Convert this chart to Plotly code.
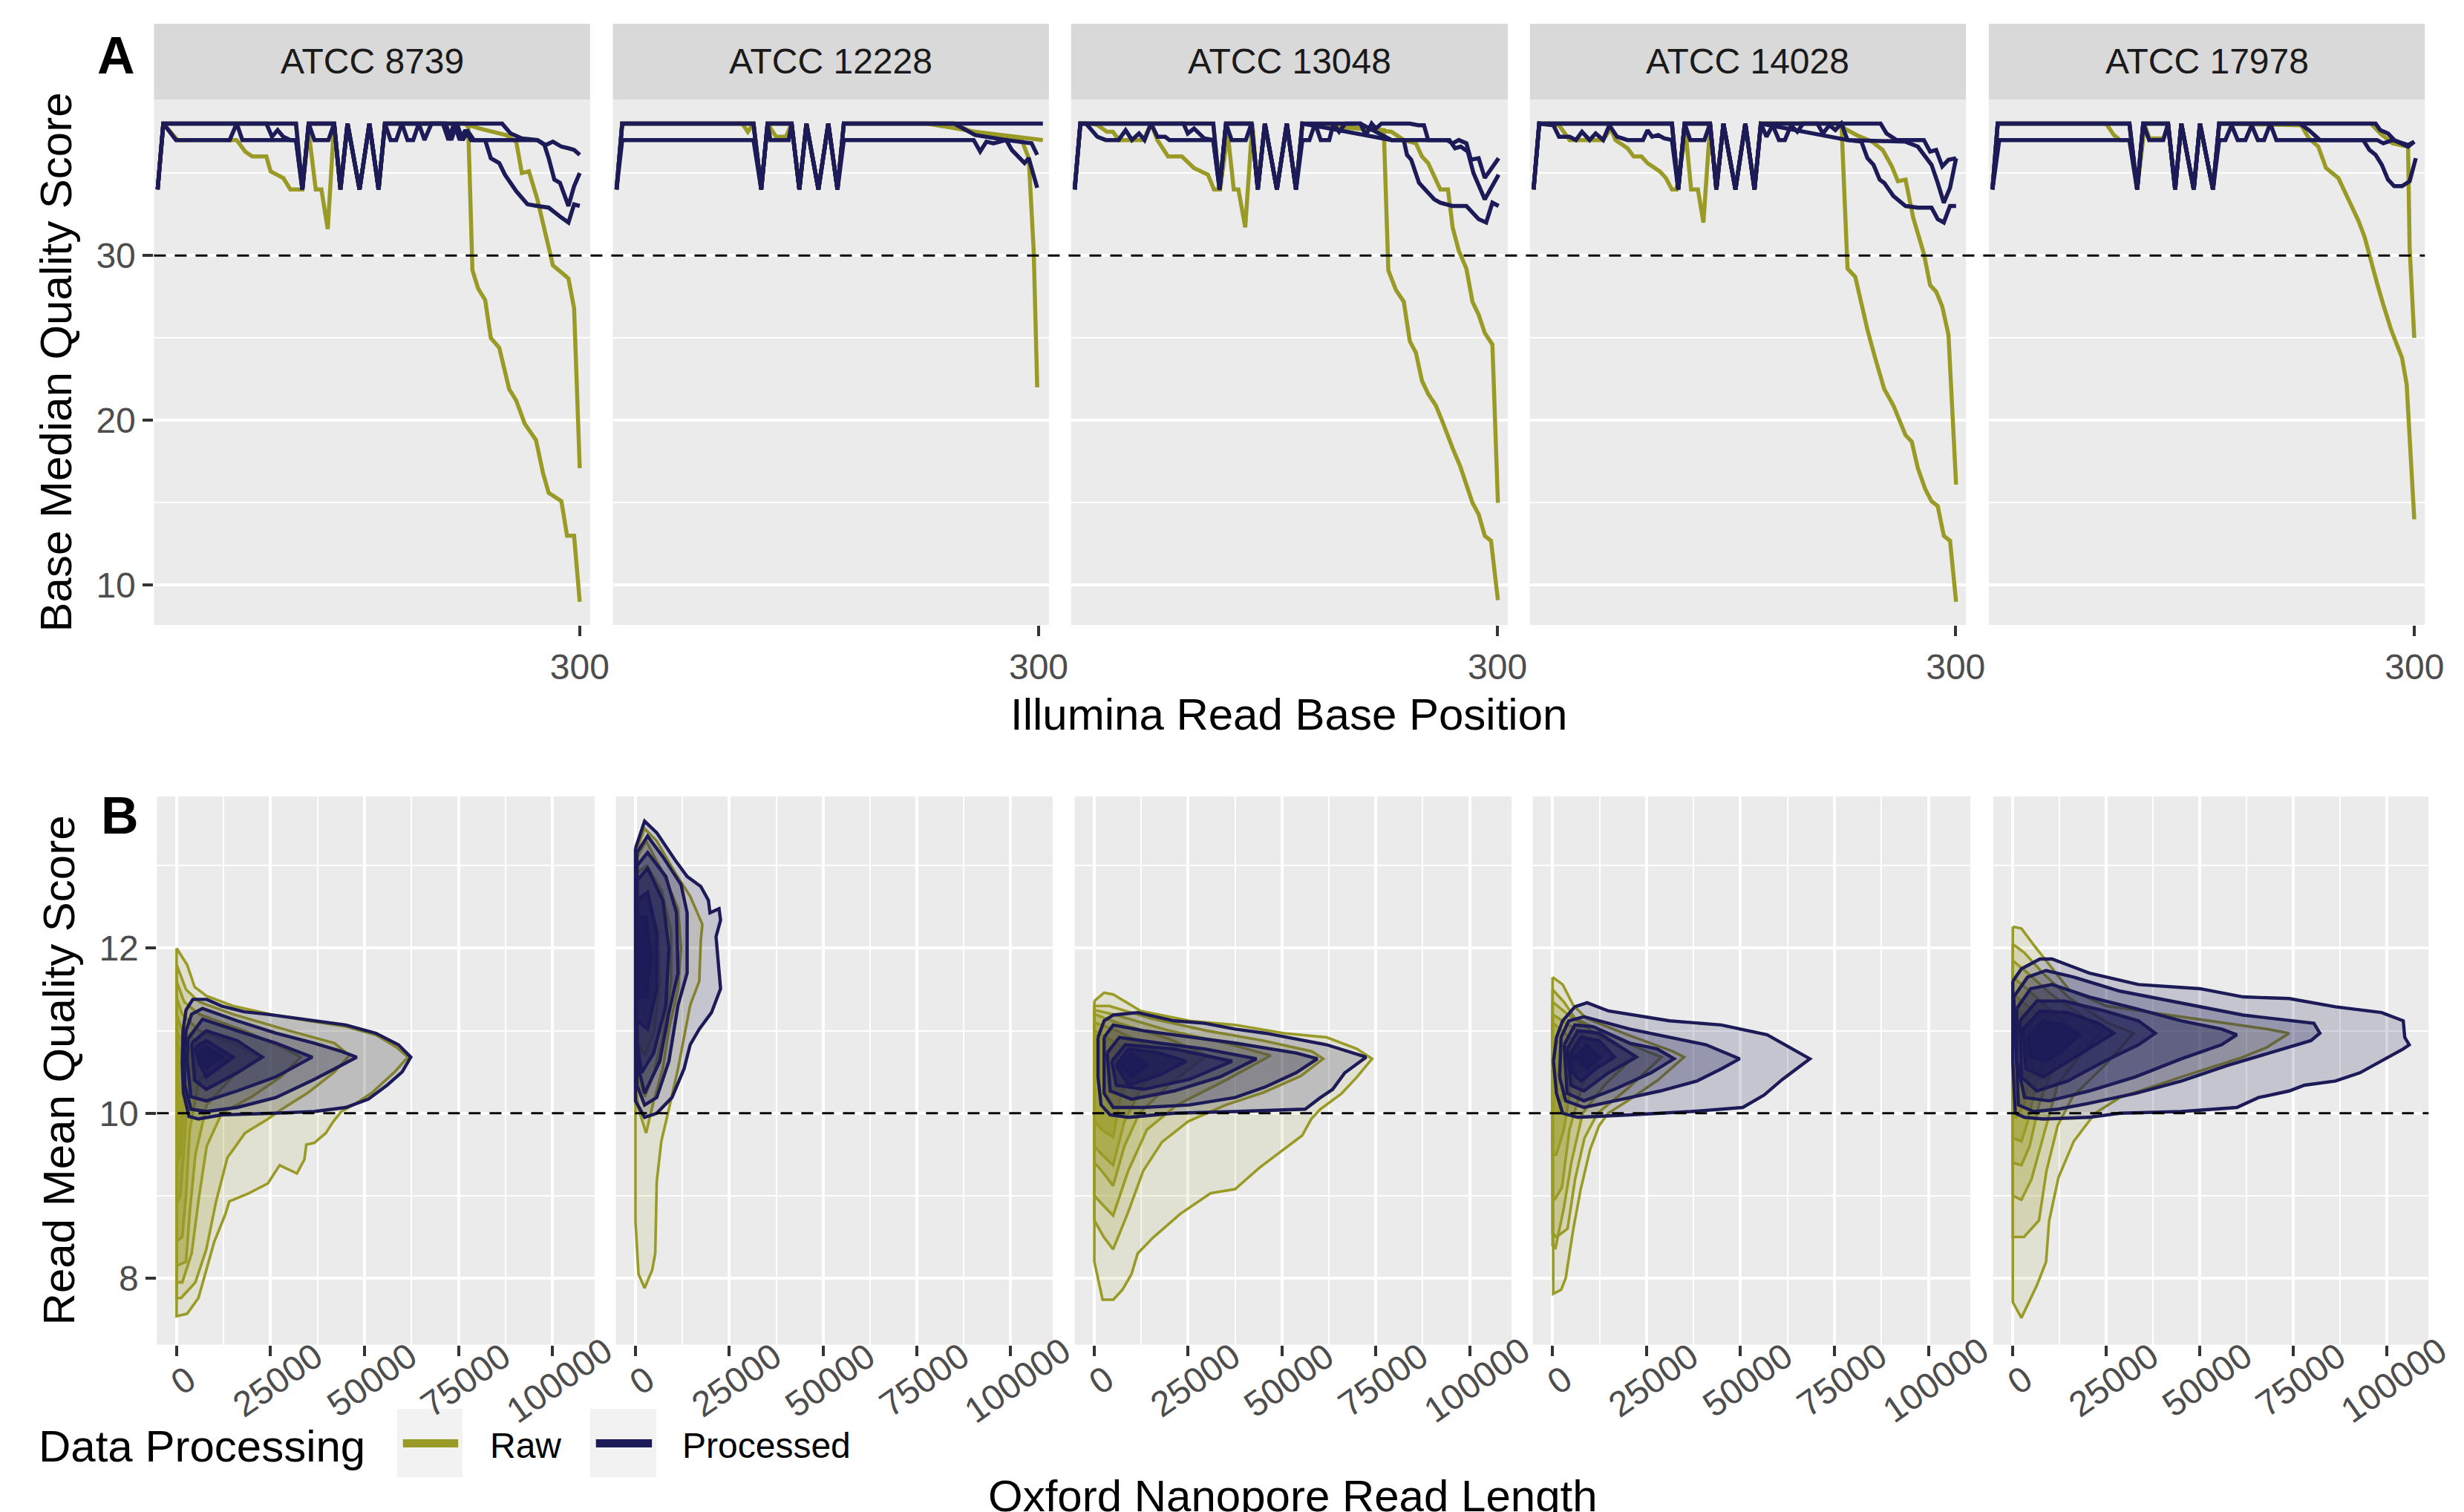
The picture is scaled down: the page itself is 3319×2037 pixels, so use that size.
import plotly.graph_objects as go

# ------------------------------------------------------------------
# DATA
# ------------------------------------------------------------------
STRAINS = ["ATCC 8739", "ATCC 12228", "ATCC 13048", "ATCC 14028", "ATCC 17978"]
GROUPS = ["Raw", "Processed"]

# ---- Panel A: Illumina per-base median quality, lines of (base position, median quality)
ill_8739_raw = [
    [(1,34),(5,38),(15,37),(57,37),(63,36.3),(68,36),(78,36),(81,35.1),(90,34.7),(95,34),(103.5,34),(108,37.5),(113,34),(117,34),(121.5,31.6),(126,38),(130.5,34),(135.5,38),(144,34),(151,38),(157.5,34),(162,38),(218,38),(229,37.7),(248,37.3),(255,36.9),(259,35),(264,35.1),(270,33.4),(276,31.3),(281,29.4),(288,28.9),(292,28.6),(296,26.8),(300,17.1)],
    [(1,34),(5,38),(99,38),(103.5,34),(108,38),(126,38),(130.5,34),(135.5,38),(144,34),(151,38),(157.5,34),(162,38),(219,38),(221,37.8),(224,29.1),(228,28),(233,27.3),(237,25),(243,24.4),(250,21.9),(255,21.2),(261,19.8),(269,18.8),(274,16.8),(278,15.6),(287,15.1),(291,13),(296,13),(300,9)],
]
ill_8739_proc = [
    [(1,34),(5,38),(78,38),(82,37.2),(86,37.6),(90,37.2),(95,37),(99,37),(103.5,34),(108,38),(126,38),(130.5,34),(135.5,38),(144,34),(151,38),(157.5,34),(162,38),(245,38),(251,37.4),(259,37.1),(270,37),(276,36.7),(281,36.9),(287,36.6),(292,36.5),(296,36.4),(300,36.1)],
    [(1,34),(5,38),(14,37),(52,37),(57,38),(61,37),(99,37),(103.5,34),(108,38),(112,37),(122,37),(126,38),(130.5,34),(135.5,38),(144,34),(151,38),(157.5,34),(162,38),(166,37),(170,37),(174,38),(178,37),(182,37),(186,38),(190,37),(195,38),(203,38),(207,37),(211,38),(215,37),(219,37.6),(223,37),(270,37),(275,36.7),(278,35.9),(282,34.6),(286,34.4),(292,33.0),(296,34.2),(300,35.0)],
    [(1,34),(5,38),(99,38),(103.5,34),(108,38),(126,38),(130.5,34),(135.5,38),(144,34),(151,38),(157.5,34),(162,38),(205,38),(209,37),(213,38),(217,37),(221,37.5),(225,37),(233,37),(237,35.9),(243,35.6),(247,34.9),(255,33.9),(263,33.1),(270,33.0),(278,32.9),(287,32.3),(292,32.0),(296,33.1),(300,33.0)],
]
ill_12228_raw = [
    [(1,34),(5,38),(90,38),(94,37.5),(98,38),(103.5,34),(108,38),(114,37.2),(121,37.2),(125,38),(130.5,34),(135.5,38),(144,34),(151,38),(157.5,34),(162,38),(221,38),(255,37.5),(303,37.0)],
    [(1,34),(5,38),(98,38),(103.5,34),(108,38),(125,38),(130.5,34),(135.5,38),(144,34),(151,38),(157.5,34),(162,38),(240,38),(255,37.4),(288,37.0),(293,35.9),(296.5,30.3),(299,22.0)],
]
ill_12228_proc = [
    [(1,34),(5,38),(98,38),(103.5,34),(108,38),(125,38),(130.5,34),(135.5,38),(144,34),(151,38),(157.5,34),(162,38),(303,38)],
    [(1,34),(5,37),(98,37),(103.5,34),(108,38),(110,37),(123,37),(125,38),(130.5,34),(135.5,38),(144,34),(151,38),(157.5,34),(162,37),(254,37),(258.6,36.3),(263,36.9),(268,36.8),(277,37),(281,36.4),(290,35.6),(293,35.9),(299,34.1)],
    [(1,34),(5,38),(98,38),(103.5,34),(108,38),(125,38),(130.5,34),(135.5,38),(144,34),(151,38),(157.5,34),(162,38),(240,38),(255,37.3),(277,37.0),(290,36.9),(295,36.8),(299,36.1)],
]
ill_13048_raw = [
    [(1,34),(5,38),(13,38),(17.3,37.9),(23.8,37.5),(28,37.5),(32.4,37),(49.7,37),(55,38),(59.5,37),(67,36),(76.8,36),(85.4,35.3),(91.9,35),(95.2,34.9),(99.5,34),(103.8,34),(109.2,37.4),(113.5,34),(116.8,34),(121.6,31.7),(126.6,38),(130.5,34),(135.5,38),(144,34),(151,38),(157.5,34),(162,38),(219.6,37.6),(222.8,29.1),(228.2,27.9),(233.7,27.2),(238,24.8),(242.3,24.1),(246.6,22.4),(251,21.6),(256.4,20.9),(260.7,20),(265,19),(268.3,18.3),(273.7,17.2),(279,15.9),(282.3,15.0),(286.7,14.3),(291,13),(295.4,12.7),(300.3,9.1)],
    [(1,34),(5,38),(99,38),(103.5,34),(108,38),(126,38),(130.5,34),(135.5,38),(144,34),(151,38),(157.5,34),(162,38),(225,37.5),(233.7,37),(242.3,36.8),(246.6,36),(251,35.6),(259.6,34),(265,34),(268.3,31.7),(272.6,30.3),(278,29.2),(282.3,27.2),(286.7,26.4),(291,25.3),(296.4,24.6),(300.3,15)],
]
ill_13048_proc = [
    [(1,34),(5,38),(99,38),(103.5,34),(108,38),(126,38),(130.5,34),(135.5,38),(144,34),(151,38),(157.5,34),(162,38),(203,38),(207,37.3),(211,38),(214,37.7),(218,38),(238,38),(244,37.9),(248,37.9),(251,37),(264,37),(268.3,36.8),(272.6,37),(278,36.8),(281.2,35.8),(286.7,35.9),(291,34.7),(300.8,35.9)],
    [(1,34),(5,38),(9,38),(17,37.2),(23,37),(32,37),(37,37.6),(41.5,37),(46.5,37.4),(50.4,37),(55,38),(59.5,37.2),(65,37.2),(68,37),(99,37),(103.5,34),(108,38),(112,37),(122,37),(126,38),(130.5,34),(135.5,38),(144,34),(151,38),(157.5,34),(162,37),(167,37),(171,38),(175,37),(181,37),(184,38),(188,37.5),(192.5,38),(203,38),(225,37),(266,37),(270,36.5),(274,36.6),(279,36.3),(283,35),(291,33.4),(300.8,34.9)],
    [(1,34),(5,38),(77.9,38),(81,37.4),(85.4,37.7),(92.6,37.1),(99,37),(103.5,34),(108,38),(126,38),(130.5,34),(135.5,38),(144,34),(151,38),(157.5,34),(162,38),(225,37),(233.7,37),(236,36.1),(239,35.8),(244.5,34.4),(249,34),(255.3,33.4),(259.6,33.2),(268,33.0),(278,33.0),(286.7,32.2),(292,32.0),(296.4,33.2),(300.8,33.0)],
]
ill_14028_raw = [
    [(1,34),(5,38),(19,37.9),(26.5,37),(50.3,37),(55.7,37.7),(59,37),(67.6,36.5),(71.9,36),(77.4,36),(81.7,35.6),(90.4,35.1),(94.7,34.7),(99,34),(102.3,34),(108.8,37.4),(112.6,34),(117.4,34),(121.3,32),(126.1,38),(130.5,34),(135.5,38),(144,34),(151,38),(157.5,34),(162,38),(219.1,38),(223.4,29.2),(228.9,28.7),(237.5,25.5),(242.9,23.8),(249.4,21.9),(255.9,20.9),(264.5,19.1),(268.9,18.7),(273.2,17.1),(278.6,15.8),(282.9,15.1),(287.3,14.8),(291.6,13.0),(296,12.7),(300.3,9.0)],
    [(1,34),(5,38),(99,38),(103.5,34),(108,38),(126,38),(130.5,34),(135.5,38),(144,34),(151,38),(157.5,34),(162,38),(219,38),(221.3,37.7),(229.9,37.3),(240.8,36.9),(248.3,36.4),(254.8,35.4),(259.1,34.5),(264.5,34.6),(269.9,32.3),(277.5,30.1),(281.9,28.2),(286.2,27.8),(290.5,26.9),(294.9,25.2),(300.3,16.1)],
]
ill_14028_proc = [
    [(1,34),(5,38),(99,38),(103.5,34),(108,38),(126,38),(130.5,34),(135.5,38),(144,34),(151,38),(157.5,34),(162,38),(246.8,38),(251,37.4),(258,37),(277.5,37),(281.9,36.3),(286.2,36.4),(290.5,35.4),(294.9,35.8),(300.3,35.9)],
    [(1,34),(5,38),(15,37.9),(19,37.2),(26.5,37.2),(31,37),(35.3,37.5),(40.7,37),(45,37.4),(50.3,37),(54.7,37.9),(60.1,37.2),(67.6,37),(78.5,37),(81.7,37.6),(85,37.2),(89.3,37.3),(93.6,37.1),(99,37),(103.5,34),(108,38),(112,37),(122,37),(126,38),(130.5,34),(135.5,38),(144,34),(151,38),(157.5,34),(162,38),(166,37.2),(170.4,37.9),(174.8,37),(179,37),(183.4,37.9),(187.8,37.5),(192,38),(202,38),(206,37.4),(210.5,37.9),(214.8,37.6),(219,38),(223.4,37),(264.5,36.9),(273.2,36.6),(282.9,35.5),(287.3,34.4),(291.6,33.2),(296,34.1),(300.3,35.9)],
    [(1,34),(5,38),(99,38),(103.5,34),(108,38),(126,38),(130.5,34),(135.5,38),(144,34),(151,38),(157.5,34),(162,38),(223.4,37),(233.2,36.9),(237.5,35.9),(241.8,35.5),(246.2,34.6),(249.4,34.4),(255.9,33.6),(264.5,33.0),(273.2,32.9),(282.9,32.9),(287.3,32.2),(291.6,32.0),(296,33.0),(300.3,33.0)],
]
ill_17978_raw = [
    [(1,34),(4.7,38),(81.5,38),(87,37.3),(91.4,37),(98,37),(103.5,34),(108.9,37.9),(112.2,37.1),(122.1,37.1),(125.4,37.9),(130.4,34),(134.8,38),(143.6,34),(148,38),(157.2,34),(161.6,38),(219.7,37.9),(225.2,37.1),(231.8,36.6),(237.3,35.3),(246,34.7),(252.6,33.5),(260.3,32.1),(264.7,31.1),(269.1,29.6),(273.5,28.3),(277.9,27.0),(283.4,25.5),(291.1,23.8),(294.4,22.2),(299.8,14.0)],
    [(1,34),(4.7,38),(98,38),(103.5,34),(107.8,38),(125.4,38),(130.4,34),(134.8,38),(143.6,34),(148,38),(157.2,34),(161.6,38),(269.1,38),(275.7,37.4),(284.5,36.8),(295.4,36.6),(296.5,30.5),(299.8,25.0)],
]
ill_17978_proc = [
    [(1,34),(4.7,38),(98,38),(103.5,34),(107.8,38),(125.4,38),(130.4,34),(134.8,38),(143.6,34),(148,38),(157.2,34),(161.6,38),(272.4,38),(275.7,37.6),(281.2,37.4),(285.6,37),(295.4,36.6),(299.8,36.9)],
    [(1,34),(5.8,37),(98,37),(103.5,34),(107.8,38),(112,37),(122,37),(125.4,38),(130.4,34),(134.8,38),(143.6,34),(148,38),(157.2,34),(161.6,37),(166,37),(170.4,37.9),(174.7,37),(180.2,37),(184.6,37.9),(189,37),(193.4,37),(197.8,38),(202.1,37),(263.6,37),(268,36.4),(272.4,36.1),(276.8,35.5),(281.2,34.6),(285.6,34.2),(291.1,34.2),(296.5,34.5),(300.9,35.9)],
    [(1,34),(4.7,38),(98,38),(103.5,34),(107.8,38),(125.4,38),(130.4,34),(134.8,38),(143.6,34),(148,38),(157.2,34),(161.6,38),(218.6,38),(225.2,37.6),(232.9,37),(273.5,37),(277.9,36.8),(284.5,37),(295.4,36.7),(299.8,36.9)],
]

# ---- Panel B: Nanopore 2D-density contours (outer -> inner), points of (read length, mean quality)
ont_8739_raw = [
    [(0,12.0),(2800,11.8),(4800,11.53),(8000,11.42),(15000,11.3),(25000,11.2),(35000,11.12),(45000,11.05),(53000,10.95),(58500,10.8),(61500,10.68),(58000,10.5),(52000,10.25),(47000,10.1),(43800,10.02),(41700,9.9),(39700,9.76),(36600,9.64),(34500,9.62),(34000,9.44),(32000,9.27),(27400,9.37),(24300,9.15),(19200,9.03),(14000,8.93),(13000,8.78),(10000,8.44),(7400,8.0),(5800,7.76),(2800,7.57),(0,7.54)],
    [(0,11.8),(2500,11.5),(6000,11.35),(15000,11.2),(30000,11.0),(42000,10.85),(46000,10.7),(42000,10.5),(35000,10.25),(28000,10.05),(24300,9.93),(18200,9.76),(13500,9.46),(10500,8.93),(7900,8.35),(5000,7.95),(1200,7.76),(0,7.76)],
    [(0,11.6),(2000,11.35),(6000,11.2),(18000,11.0),(28000,10.8),(33000,10.68),(28000,10.45),(20000,10.2),(12000,10.0),(8000,9.6),(6000,9.0),(4000,8.3),(1500,7.95),(0,7.95)],
    [(0,11.4),(1500,11.2),(6000,11.0),(15000,10.85),(22000,10.68),(15000,10.45),(8000,10.1),(5000,9.5),(3500,8.8),(2500,8.2),(0,8.15)],
    [(0,11.2),(1500,11.0),(6000,10.85),(14000,10.68),(6000,10.4),(3500,9.8),(2500,9.0),(1500,8.5),(0,8.45)],
    [(0,11.0),(1500,10.85),(7000,10.68),(3000,10.3),(2000,9.6),(1000,9.0),(0,8.9)],
    [(0,10.85),(1500,10.7),(4000,10.6),(2000,10.2),(1000,9.5),(0,9.4)],
]
ont_8739_proc = [
    [(1700,11.0),(2500,11.25),(4300,11.38),(8000,11.38),(12000,11.3),(18000,11.23),(24000,11.2),(32500,11.15),(45000,11.07),(53000,10.97),(59000,10.83),(62300,10.68),(60000,10.5),(56000,10.34),(51000,10.17),(45000,10.07),(36600,10.02),(26000,10.0),(12000,9.98),(5800,9.93),(3300,9.96),(1800,10.25),(1500,10.6)],
    [(2500,11.0),(4000,11.2),(6900,11.27),(16100,11.12),(26400,10.97),(36600,10.85),(43800,10.75),(47900,10.68),(43800,10.58),(36600,10.41),(26400,10.19),(16100,10.07),(7900,10.02),(3800,10.05),(2200,10.34),(2000,10.75)],
    [(3000,10.9),(6900,11.14),(16100,11.0),(26400,10.85),(36100,10.68),(26400,10.44),(16100,10.27),(7900,10.15),(3800,10.2),(2800,10.63)],
    [(4000,10.85),(7900,11.0),(16100,10.88),(22800,10.68),(16100,10.49),(7900,10.29),(4800,10.4),(4300,10.7)],
    [(5000,10.8),(7900,10.88),(15100,10.68),(7900,10.44),(5800,10.63)],
    [(6000,10.75),(8000,10.8),(12000,10.68),(8000,10.55),(6200,10.65)],
]
ont_12228_raw = [
    [(0,13.16),(2430,13.45),(5670,13.3),(10530,12.92),(14580,12.63),(17820,12.29),(17400,12.09),(17000,11.6),(14580,11.31),(12960,10.92),(11340,10.54),(8910,10.05),(6885,9.66),(5670,9.17),(5265,8.3),(4455,8.1),(2430,7.88),(810,8.05),(0,8.69)],
    [(0,13.07),(2835,13.3),(7290,12.92),(11340,12.48),(12150,12.0),(11340,11.51),(8910,11.02),(7290,10.54),(4860,10.15),(2835,9.76),(810,10.05),(0,10.34)],
    [(0,12.9),(3000,13.0),(7000,12.7),(9500,12.2),(9500,11.6),(7500,11.0),(5000,10.5),(2500,10.2),(0,10.5)],
    [(0,12.6),(3000,12.6),(6000,12.2),(6500,11.6),(5000,11.0),(2500,10.7),(0,10.9)],
    [(0,12.3),(3000,12.3),(4500,11.9),(4000,11.4),(2000,11.2),(0,11.3)],
]
ont_12228_proc = [
    [(0,13.21),(2430,13.54),(5670,13.4),(10530,13.07),(13770,12.87),(17400,12.75),(19440,12.58),(19850,12.43),(22270,12.48),(22680,12.34),(21470,12.14),(22270,11.7),(22680,11.51),(20250,11.22),(17000,11.02),(14580,10.83),(12960,10.54),(9720,10.19),(5670,10.0),(2430,9.95),(0,10.15)],
    [(400,13.16),(3240,13.36),(7290,13.11),(12150,12.77),(13770,12.43),(13770,11.7),(11340,11.31),(8910,10.63),(5670,10.19),(2430,10.1),(400,10.34)],
    [(400,13.0),(3240,13.16),(8100,12.87),(10935,12.43),(11340,11.7),(8910,11.22),(6480,10.63),(2430,10.24),(400,10.63)],
    [(400,12.82),(3240,12.97),(7290,12.58),(8910,12.0),(8100,11.31),(4860,10.73),(1620,10.49),(400,10.88)],
    [(400,12.58),(3240,12.68),(5670,12.19),(5670,11.51),(3240,11.02),(400,11.12)],
    [(400,12.38),(2835,12.38),(4050,11.9),(2835,11.41),(400,11.41)],
]
ont_13048_raw = [
    [(0,11.36),(2600,11.46),(5030,11.44),(12340,11.24),(25330,11.12),(37500,11.07),(50500,10.97),(61900,10.92),(70000,10.78),(74000,10.66),(70000,10.44),(65900,10.24),(60250,10.05),(57800,9.93),(55380,9.73),(51300,9.59),(44000,9.34),(37500,9.08),(31000,9.03),(22900,8.78),(15590,8.49),(11530,8.3),(9900,8.05),(7470,7.86),(5030,7.74),(2190,7.74),(0,8.2)],
    [(0,11.3),(4000,11.3),(15000,11.15),(30000,11.0),(45000,10.88),(58000,10.75),(61000,10.66),(55000,10.45),(45000,10.25),(35000,10.1),(25000,9.9),(18000,9.65),(13000,9.3),(9000,8.8),(5000,8.35),(2500,8.5),(0,8.7)],
    [(0,11.25),(5000,11.2),(20000,11.0),(35000,10.85),(47000,10.7),(35000,10.4),(22000,10.1),(14000,9.8),(9000,9.3),(5000,8.76),(2000,8.9),(0,9.0)],
    [(0,11.2),(6000,11.1),(20000,10.9),(30000,10.7),(20000,10.35),(12000,10.0),(8000,9.6),(5000,9.12),(2000,9.3),(0,9.4)],
    [(0,11.1),(6000,11.0),(15000,10.8),(20000,10.65),(13000,10.35),(8000,9.9),(5000,9.37),(2000,9.5),(0,9.6)],
    [(0,11.0),(6000,10.85),(12000,10.65),(7000,10.2),(5000,9.71),(2000,9.8),(0,9.9)],
]
ont_13048_proc = [
    [(975,10.92),(2600,11.12),(5030,11.19),(11530,11.22),(21270,11.12),(29400,11.09),(37500,11.02),(45600,10.97),(61900,10.83),(72430,10.68),(66750,10.49),(63500,10.29),(60250,10.19),(56200,10.05),(37500,10.02),(21270,10.0),(9100,9.95),(4200,9.98),(1790,10.1),(975,10.44)],
    [(2600,10.92),(5030,11.07),(13150,11.0),(25330,10.92),(37500,10.85),(53750,10.73),(59440,10.66),(53750,10.49),(45600,10.32),(37500,10.19),(25330,10.1),(13150,10.07),(5030,10.07),(2600,10.24)],
    [(3400,10.73),(6660,10.92),(17200,10.85),(29400,10.78),(43200,10.66),(33450,10.44),(21270,10.27),(9900,10.17),(4220,10.27)],
    [(4630,10.63),(8280,10.83),(21270,10.78),(36700,10.63),(25330,10.41),(13150,10.29),(5850,10.34)],
    [(5850,10.58),(9100,10.78),(17200,10.73),(24500,10.63),(17200,10.46),(9100,10.34)],
    [(7060,10.58),(9900,10.73),(13970,10.58),(9900,10.44)],
]
ont_14028_raw = [
    [(0,11.65),(2700,11.56),(5500,11.31),(9000,11.15),(20000,10.95),(32000,10.75),(35000,10.68),(28000,10.4),(20000,10.15),(14800,10.0),(12400,9.85),(10000,9.56),(7500,9.08),(5500,8.59),(3500,8.0),(2300,7.86),(200,7.81)],
    [(0,11.5),(3000,11.35),(6000,11.15),(15000,10.95),(25000,10.75),(29000,10.68),(20000,10.3),(12000,10.0),(8500,9.7),(6000,9.2),(4000,8.6),(1000,8.5),(0,8.55)],
    [(0,11.35),(4000,11.2),(12000,10.95),(22000,10.7),(14000,10.35),(8000,10.0),(5000,9.4),(3000,8.85),(800,8.37),(0,8.4)],
    [(0,11.2),(5000,11.05),(14000,10.75),(8000,10.35),(4500,9.8),(2500,9.1),(500,8.95),(0,9.0)],
    [(0,11.1),(5000,10.9),(9000,10.7),(5000,10.35),(3000,9.8),(1000,9.5),(0,9.5)],
    [(300,10.9),(4000,10.8),(6000,10.65),(3000,10.3),(1500,10.0),(300,10.0)],
]
ont_14028_proc = [
    [(240,10.63),(1060,10.92),(2680,11.12),(5930,11.29),(9180,11.34),(14860,11.24),(31100,11.12),(44900,11.07),(57100,10.95),(68450,10.66),(61150,10.41),(56270,10.22),(50600,10.07),(36800,10.02),(20540,9.98),(6740,9.95),(2680,10.0),(1060,10.24)],
    [(1870,10.44),(2270,10.92),(4300,11.12),(8360,11.17),(20540,11.02),(32720,10.9),(40840,10.83),(49780,10.66),(45000,10.54),(38400,10.39),(28660,10.27),(16480,10.15),(8360,10.07),(3490,10.15)],
    [(3090,10.83),(5930,11.07),(10800,11.05),(20540,10.85),(27850,10.78),(32320,10.66),(26230,10.49),(16480,10.29),(8360,10.15),(3900,10.24)],
    [(3900,10.78),(6740,11.0),(12420,10.97),(22330,10.68),(14860,10.49),(8360,10.27),(4870,10.34)],
    [(4870,10.73),(7550,10.92),(12420,10.88),(16480,10.68),(11610,10.54),(7550,10.39),(5280,10.49)],
    [(5930,10.68),(9180,10.83),(12420,10.68),(9180,10.54)],
]
ont_17978_raw = [
    [(0,12.26),(2300,12.24),(5600,12.04),(8900,11.85),(15000,11.5),(25000,11.3),(40000,11.2),(55000,11.1),(68000,11.02),(73900,10.97),(68000,10.8),(61500,10.68),(45100,10.44),(28600,10.19),(22000,10.0),(16300,9.66),(12200,9.22),(9700,8.69),(8900,8.2),(6400,7.91),(2300,7.52),(0,7.71)],
    [(0,12.05),(3000,11.95),(8000,11.7),(15000,11.4),(25000,11.1),(32300,10.97),(25000,10.6),(16000,10.2),(12000,9.85),(9000,9.3),(7000,8.7),(3000,8.5),(0,8.5)],
    [(0,11.85),(4000,11.7),(10000,11.45),(18000,11.2),(24000,11.0),(18000,10.7),(12000,10.35),(8000,9.7),(5000,9.2),(2300,8.95),(0,9.0)],
    [(0,11.65),(4000,11.5),(10000,11.25),(17000,10.97),(11000,10.6),(7000,10.1),(4500,9.6),(2300,9.37),(0,9.4)],
    [(0,11.45),(4000,11.3),(12000,10.97),(7000,10.5),(4000,9.9),(2300,9.66),(0,9.7)],
    [(0,11.3),(4000,11.15),(9000,10.97),(5000,10.55),(3000,10.1),(1000,9.95),(0,9.95)],
]
ont_17978_proc = [
    [(0,11.6),(2300,11.75),(7240,11.87),(10500,11.87),(20400,11.7),(33600,11.56),(50000,11.51),(61600,11.41),(73900,11.39),(86250,11.29),(98600,11.22),(104400,11.12),(104800,10.92),(106000,10.83),(104400,10.78),(98600,10.63),(92800,10.49),(86250,10.39),(78000,10.34),(73900,10.27),(65700,10.19),(59900,10.07),(45100,10.02),(28640,10.0),(20400,9.95),(8070,9.93),(3130,9.95),(660,10.0),(0,10.63)],
    [(250,11.41),(3950,11.65),(8900,11.73),(16300,11.65),(28640,11.48),(45100,11.34),(61560,11.19),(80500,11.09),(82100,10.97),(79700,10.88),(69800,10.75),(57400,10.58),(45100,10.39),(32750,10.24),(20400,10.12),(12200,10.05),(5600,10.02),(1500,10.1)],
    [(1070,11.27),(4770,11.51),(10500,11.56),(20400,11.41),(32750,11.27),(45100,11.12),(55800,11.02),(59900,10.95),(55800,10.83),(45100,10.66),(32750,10.44),(20400,10.27),(9700,10.15),(3130,10.19),(1070,10.63)],
    [(1900,11.12),(6400,11.36),(13800,11.36),(24500,11.24),(33600,11.12),(38100,10.97),(33600,10.83),(24500,10.63),(14650,10.39),(6400,10.27),(2300,10.44)],
    [(2700,11.02),(7240,11.24),(14650,11.22),(22900,11.09),(27000,10.97),(22000,10.83),(14650,10.63),(8070,10.44),(3540,10.54)],
    [(3950,10.92),(8070,11.12),(13800,11.07),(17900,10.95),(13800,10.78),(8900,10.63),(4770,10.68)],
    [(6400,10.92),(9700,11.02),(13000,10.92),(9700,10.78),(7240,10.8)],
]

ILL_RAW = [ill_8739_raw, ill_12228_raw, ill_13048_raw, ill_14028_raw, ill_17978_raw]
ILL_PROC = [ill_8739_proc, ill_12228_proc, ill_13048_proc, ill_14028_proc, ill_17978_proc]
ONT_RAW = [ont_8739_raw, ont_12228_raw, ont_13048_raw, ont_14028_raw, ont_17978_raw]
ONT_PROC = [ont_8739_proc, ont_12228_proc, ont_13048_proc, ont_14028_proc, ont_17978_proc]

ILL_Q_TICKS = [10, 20, 30]
ILL_Q_MINOR = [15, 25, 35]
ILL_POS_TICKS = [300]
ONT_Q_TICKS = [8, 10, 12]
ONT_Q_MINOR = [9, 11, 13]
ONT_LEN_TICKS = [0, 25000, 50000, 75000, 100000]
ONT_LEN_MINOR = [12500, 37500, 62500, 87500]
ILL_THRESHOLD = 30
ONT_THRESHOLD = 10

# ------------------------------------------------------------------
# STYLE / LAYOUT
# ------------------------------------------------------------------
W, H = 3319, 2037
OFFY = 8  # the page places the figure 8 px lower
FONT = "Liberation Sans, Arial, Helvetica, sans-serif"
RAW_RGB = (154, 154, 38)
PROC_RGB = (28, 27, 88)
RAW_ALPHA = [0.12, 0.18, 0.25, 0.33, 0.42, 0.5, 0.6]
PROC_ALPHA = [0.18, 0.28, 0.4, 0.55, 0.7, 0.85, 0.95]

TOP_X = [(201, 793), (824, 1416), (1446, 2039), (2069, 2661), (2692, 3284)]
BOT_X = [(205, 799), (828, 1421), (1451, 2044), (2073, 2667), (2698, 3289)]
TOP_Y = (134, 842)
BOT_Y = (1073, 1811.5)
STRIP_Y = (32, 134)
FW, FH = W, H - OFFY


def rgb(c):
    return f"rgb({c[0]},{c[1]},{c[2]})"


def rgba(c, a):
    return f"rgba({c[0]},{c[1]},{c[2]},{a})"


def fx(p):
    return p / FW


def fy(p):
    return 1 - (p - OFFY) / FH


def ax(n):
    return "" if n == 1 else str(n)


fig = go.Figure()

# Panel A lines
for i in range(5):
    n = i + 1
    for grp, lines, col in (("Raw", ILL_RAW[i], RAW_RGB), ("Processed", ILL_PROC[i], PROC_RGB)):
        for line in lines:
            fig.add_trace(go.Scatter(
                x=[p for p, q in line], y=[q for p, q in line], mode="lines",
                line=dict(color=rgb(col), width=5.5), name=grp, showlegend=False,
                hoverinfo="skip", xaxis="x" + ax(n), yaxis="y" + ax(n)))

# Panel B contours
for i in range(5):
    n = i + 6
    for grp, polys, col, alphas, lw in (("Raw", ONT_RAW[i], RAW_RGB, RAW_ALPHA, 3.6),
                                        ("Processed", ONT_PROC[i], PROC_RGB, PROC_ALPHA, 4.4)):
        for k, poly in enumerate(polys):
            xs = [p for p, q in poly] + [poly[0][0]]
            ys = [q for p, q in poly] + [poly[0][1]]
            fig.add_trace(go.Scatter(
                x=xs, y=ys, mode="lines", fill="toself",
                fillcolor=rgba(col, alphas[min(k, len(alphas) - 1)]),
                line=dict(color=rgb(col), width=lw), name=grp, showlegend=False,
                hoverinfo="skip", xaxis="x" + ax(n), yaxis="y" + ax(n)))

layout = dict(
    width=FW, height=FH, autosize=False,
    margin=dict(l=0, r=0, t=0, b=0),
    paper_bgcolor="white", plot_bgcolor="#EBEBEB",
    font=dict(family=FONT, size=48, color="#4D4D4D"),
    showlegend=False,
)

tick_common = dict(ticks="outside", ticklen=14, tickwidth=4, tickcolor="#333333",
                   zeroline=False, showline=False,
                   tickfont=dict(family=FONT, size=48, color="#4D4D4D"))

for i in range(5):
    n = i + 1
    layout["xaxis" + ax(n)] = dict(
        domain=[fx(TOP_X[i][0]), fx(TOP_X[i][1])], anchor="y" + ax(n),
        range=[-1.6, 307.3], tickvals=ILL_POS_TICKS, showgrid=False, **tick_common)
    ycfg = dict(
        domain=[fy(TOP_Y[1]), fy(TOP_Y[0])], anchor="x" + ax(n),
        range=[7.59, 39.46], tickvals=ILL_Q_TICKS, showgrid=True, gridcolor="white", gridwidth=4.3,
        minor=dict(tickvals=ILL_Q_MINOR, showgrid=True, gridcolor="white", gridwidth=2.2, ticks=""),
        showticklabels=(i == 0), **tick_common)
    if i > 0:
        ycfg["ticks"] = ""
    layout["yaxis" + ax(n)] = ycfg

for i in range(5):
    n = i + 6
    layout["xaxis" + ax(n)] = dict(
        domain=[fx(BOT_X[i][0]), fx(BOT_X[i][1])], anchor="y" + ax(n),
        range=[-5235, 111157], tickvals=ONT_LEN_TICKS, showticklabels=False,
        showgrid=True, gridcolor="white", gridwidth=4.3,
        minor=dict(tickvals=ONT_LEN_MINOR, showgrid=True, gridcolor="white", gridwidth=2.2, ticks=""),
        **tick_common)
    ycfg = dict(
        domain=[fy(BOT_Y[1]), fy(BOT_Y[0])], anchor="x" + ax(n),
        range=[7.195, 13.84], tickvals=ONT_Q_TICKS, showgrid=True, gridcolor="white", gridwidth=4.3,
        minor=dict(tickvals=ONT_Q_MINOR, showgrid=True, gridcolor="white", gridwidth=2.2, ticks=""),
        showticklabels=(i == 0), **tick_common)
    if i > 0:
        ycfg["ticks"] = ""
    layout["yaxis" + ax(n)] = ycfg

fig.update_layout(**layout)

shapes = []
annotations = []

# Strips
for i, s in enumerate(STRAINS):
    shapes.append(dict(type="rect", xref="paper", yref="paper",
                       x0=fx(TOP_X[i][0]), x1=fx(TOP_X[i][1]), y0=fy(STRIP_Y[1]), y1=fy(STRIP_Y[0]),
                       fillcolor="#D9D9D9", line=dict(width=0), layer="below"))
    annotations.append(dict(text=s, xref="paper", yref="paper",
                            x=fx((TOP_X[i][0] + TOP_X[i][1]) / 2), y=fy((STRIP_Y[0] + STRIP_Y[1]) / 2),
                            xanchor="center", yanchor="middle", showarrow=False,
                            font=dict(family=FONT, size=48, color="#1A1A1A")))

# Threshold dashed lines spanning all facets
shapes.append(dict(type="line", xref="paper", yref="y", x0=fx(TOP_X[0][0]), x1=fx(TOP_X[4][1]),
                   y0=ILL_THRESHOLD, y1=ILL_THRESHOLD, line=dict(color="black", width=3, dash="16px,12px"),
                   layer="above"))
shapes.append(dict(type="line", xref="paper", yref="y6", x0=fx(BOT_X[0][0]), x1=fx(BOT_X[4][1]),
                   y0=ONT_THRESHOLD, y1=ONT_THRESHOLD, line=dict(color="black", width=3, dash="16px,12px"),
                   layer="above"))

# Rotated x tick labels for panel B
for i in range(5):
    n = i + 6
    for t in ONT_LEN_TICKS:
        annotations.append(dict(text=str(t), xref="x" + ax(n), yref="paper", x=t, y=fy(1859),
                                xanchor="center", yanchor="middle", textangle=-35, xshift=9,
                                showarrow=False, font=dict(family=FONT, size=48, color="#4D4D4D")))

# Axis titles
annotations += [
    dict(text="Base Median Quality Score", xref="paper", yref="paper", x=fx(69), y=fy(488),
         textangle=-90, xanchor="center", yanchor="middle", showarrow=False,
         font=dict(family=FONT, size=60, color="black")),
    dict(text="Read Mean Quality Score", xref="paper", yref="paper", x=fx(72), y=fy(1442),
         textangle=-90, xanchor="center", yanchor="middle", showarrow=False,
         font=dict(family=FONT, size=60, color="black")),
    dict(text="Illumina Read Base Position", xref="paper", yref="paper", x=fx(1742), y=fy(963),
         xanchor="center", yanchor="middle", showarrow=False,
         font=dict(family=FONT, size=60, color="black")),
    dict(text="Oxford Nanopore Read Length", xref="paper", yref="paper", x=fx(1747), y=fy(1980),
         xanchor="center", yanchor="top", showarrow=False,
         font=dict(family=FONT, size=60, color="black")),
    dict(text="<b>A</b>", xref="paper", yref="paper", x=fx(150), y=fy(75),
         xanchor="center", yanchor="middle", showarrow=False,
         font=dict(family=FONT, size=70, color="black")),
    dict(text="<b>B</b>", xref="paper", yref="paper", x=fx(155), y=fy(1099),
         xanchor="center", yanchor="middle", showarrow=False,
         font=dict(family=FONT, size=70, color="black")),
]

# Legend
annotations.append(dict(text="Data Processing", xref="paper", yref="paper", x=fx(42), y=fy(1948),
                        xanchor="left", yanchor="middle", showarrow=False,
                        font=dict(family=FONT, size=60, color="black")))
for (kx0, kx1, tx), grp, col in (((531, 620, 655), "Raw", RAW_RGB), ((793, 883, 916), "Processed", PROC_RGB)):
    shapes.append(dict(type="rect", xref="paper", yref="paper", x0=fx(kx0), x1=fx(kx1),
                       y0=fy(1990), y1=fy(1898), fillcolor="#F2F2F2", line=dict(width=0)))
    shapes.append(dict(type="line", xref="paper", yref="paper", x0=fx(kx0 + 8), x1=fx(kx1 - 6),
                       y0=fy(1944.5), y1=fy(1944.5), line=dict(color=rgb(col), width=11)))
    annotations.append(dict(text=grp, xref="paper", yref="paper", x=fx(tx), y=fy(1947),
                            xanchor="left", yanchor="middle", showarrow=False,
                            font=dict(family=FONT, size=48, color="black")))

fig.update_layout(shapes=shapes, annotations=annotations)
fig.write_html("out.html")
